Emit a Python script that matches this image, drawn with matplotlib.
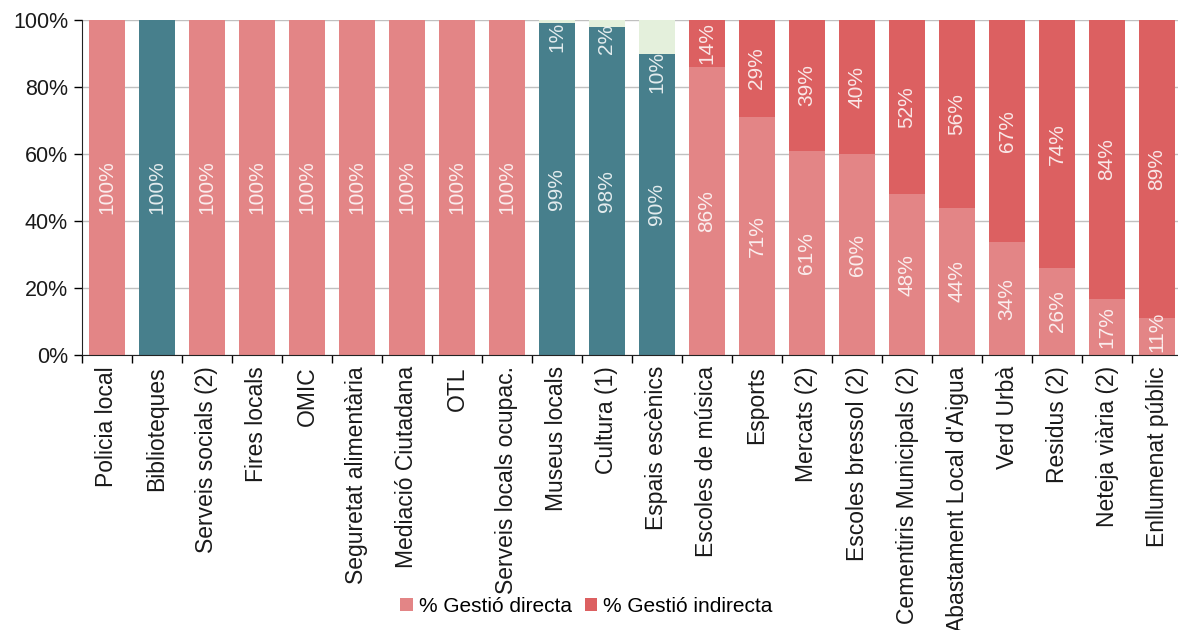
import numpy as np
import matplotlib
matplotlib.use("Agg")
import matplotlib.pyplot as plt
from matplotlib.ticker import FixedLocator, PercentFormatter

plt.rcParams['font.family'] = ['Liberation Sans', 'DejaVu Sans']

categories = ["Policia local", "Biblioteques", "Serveis socials (2)", "Fires locals",
              "OMIC", "Seguretat alimentària", "Mediació Ciutadana", "OTL",
              "Serveis locals ocupac.", "Museus locals", "Cultura (1)", "Espais escènics",
              "Escoles de música", "Esports", "Mercats (2)", "Escoles bressol (2)",
              "Cementiris Municipals (2)", "Abastament Local d'Aigua", "Verd Urbà",
              "Residus (2)", "Neteja viària (2)", "Enllumenat públic"]

# % shown on the chart (direct / indirect); teal bars use a separate colour pair
directa = [100, 0, 100, 100, 100, 100, 100, 100, 100, 0, 0, 0,
           86, 71, 61, 60, 48, 44, 34, 26, 17, 11]
indirecta = [0, 0, 0, 0, 0, 0, 0, 0, 0, 0, 0, 0,
             14, 29, 39, 40, 52, 56, 67, 74, 84, 89]
cultura_directa = [0, 100, 0, 0, 0, 0, 0, 0, 0, 99, 98, 90,
                   0, 0, 0, 0, 0, 0, 0, 0, 0, 0]
cultura_altres = [0, 0, 0, 0, 0, 0, 0, 0, 0, 1, 2, 10,
                  0, 0, 0, 0, 0, 0, 0, 0, 0, 0]

c_dir = '#e38586'
c_ind = '#dc6061'
c_teal = '#477f8c'
c_green = '#e4f0dc'
lab_col = (1, 1, 1, 0.85)

n = len(categories)
x = np.arange(n)
d = np.array(directa, float)
i = np.array(indirecta, float)
t = np.array(cultura_directa, float)
g = np.array(cultura_altres, float)
tot = d + i + t + g
dp, ip, tp, gp = d / tot * 100, i / tot * 100, t / tot * 100, g / tot * 100

fig = plt.figure(figsize=(11.78, 6.3), dpi=100)
ax = fig.add_axes([0.0696, 0.4365, 0.9338, 0.5317])
w = 0.72
ax.bar(x, dp, w, color=c_dir, label='% Gestió directa', zorder=2)
ax.bar(x, ip, w, bottom=dp, color=c_ind, label='% Gestió indirecta', zorder=2)
ax.bar(x, tp, w, color=c_teal, zorder=2)
ax.bar(x, gp, w, bottom=tp, color=c_green, zorder=2)

fs = 15
for k in range(n):
    if d[k] > 0:
        yc = max(dp[k] / 2, 7)
        ax.text(x[k], yc, '%d%%' % d[k], rotation=90, ha='center', va='center',
                color=lab_col, fontsize=fs, zorder=3)
    if i[k] > 0:
        ax.text(x[k], dp[k] + ip[k] / 2, '%d%%' % i[k], rotation=90, ha='center',
                va='center', color=lab_col, fontsize=fs, zorder=3)
    if t[k] > 0:
        ax.text(x[k], tp[k] / 2, '%d%%' % t[k], rotation=90, ha='center', va='center',
                color=lab_col, fontsize=fs, zorder=3)
    if g[k] > 0:
        ax.text(x[k], min(tp[k] + 0.8, 99.5), '%d%%' % g[k], rotation=90, ha='center',
                va='top', color=lab_col, fontsize=fs, zorder=3)

ax.set_xlim(-0.5, n - 0.5)
ax.set_ylim(0, 100)
ax.set_yticks(np.arange(0, 101, 20))
ax.yaxis.set_major_formatter(PercentFormatter(decimals=0))
ax.yaxis.grid(True, color='#c0c0c0', linewidth=1, zorder=0)
ax.set_axisbelow(True)

ax.set_xticks(x)
ax.set_xticklabels(categories, rotation=90, fontsize=16.5, color='#1a1a1a')
ax.xaxis.set_minor_locator(FixedLocator(np.arange(-0.5, n, 1.0)))
ax.tick_params(axis='x', which='major', length=0, pad=8)
ax.tick_params(axis='x', which='minor', length=6, width=1, direction='out')
ax.tick_params(axis='y', length=6, width=1, direction='out', labelsize=15.5,
               labelcolor='#1a1a1a', pad=4)

for s in ['top', 'right']:
    ax.spines[s].set_visible(False)
ax.spines['left'].set_color('#222222')
ax.spines['bottom'].set_color('#222222')

handles, labels = ax.get_legend_handles_labels()
fig.legend(handles, labels, loc='center', bbox_to_anchor=(0.498, 0.038), ncol=2,
           frameon=False, fontsize=15, handlelength=0.6, handleheight=0.6,
           handletextpad=0.3, columnspacing=0.6)

fig.savefig('out.png', dpi=100)
